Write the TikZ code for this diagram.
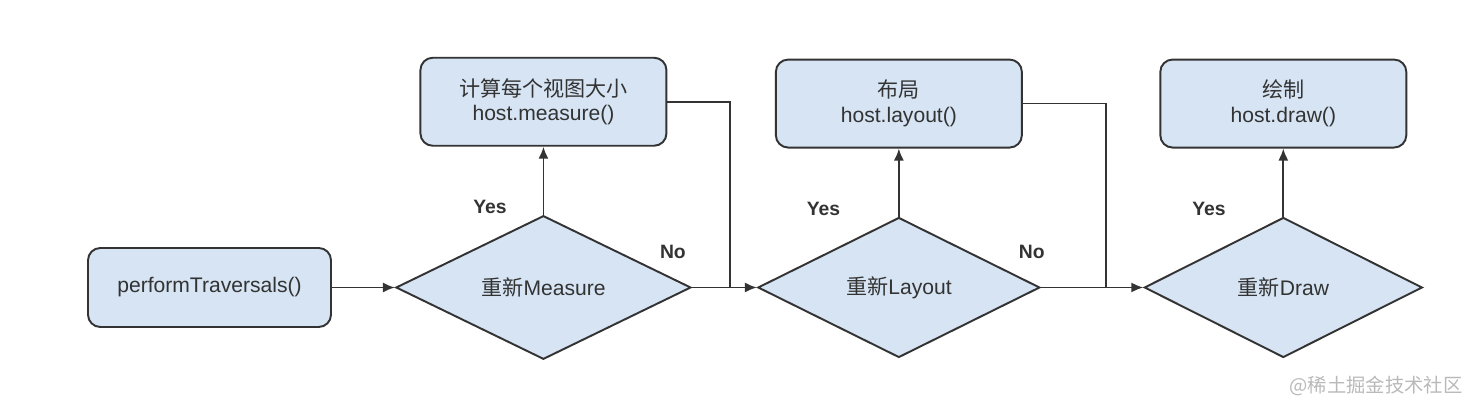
\documentclass[tikz,border=0pt]{standalone}
\usepackage{fontspec}
\setmainfont{Liberation Sans}
\newfontfamily\cjk{Noto Sans CJK SC}
\usepackage{tikz}
\usetikzlibrary{arrows.meta,positioning,shapes.geometric}
\definecolor{Box}{HTML}{D6E4F3}
\definecolor{Edge}{HTML}{333333}
\definecolor{Ink}{HTML}{333333}

\begin{document}
\begin{tikzpicture}[font=\fontsize{12}{14}\selectfont,>={Latex[length=2.4mm,width=2mm]},
  task/.style={draw=Edge,line width=1.1pt,rounded corners=7pt,fill=Box,text=Ink,align=center,minimum width=4.92cm,minimum height=1.76cm},
  decision/.style={diamond,draw=Edge,line width=1.1pt,fill=Box,text=Ink,inner sep=0pt,minimum height=2.8cm},
  flow/.style={draw=Edge,line width=1pt},
  answer/.style={font=\fontsize{11}{13}\selectfont\bfseries,text=Ink}]
  \useasboundingbox (-4.19,-2.49) rectangle (25.43,5.75);
  % main row
  \node[task,minimum width=4.86cm,minimum height=1.58cm] (start) at (0,0) {performTraversals()};
  \node[decision,minimum width=5.9cm,right=1.26cm of start] (measure) {{\cjk 重新}Measure};
  \node[decision,minimum width=5.64cm,right=1.3cm of measure] (layout) {{\cjk 重新}Layout};
  \node[decision,minimum width=5.56cm,right=2.05cm of layout] (redraw) {{\cjk 重新}Draw};
  % actions
  \node[task,above=1.36cm of measure] (measureDo) {{\cjk 计算每个视图大小}\\host.measure()};
  \node[task,above=1.36cm of layout] (layoutDo) {{\cjk 布局}\\host.layout()};
  \node[task,above=1.36cm of redraw] (redrawDo) {{\cjk 绘制}\\host.draw()};
  \coordinate[left=0.54cm of layout.west] (measureJoin);
  \coordinate[left=0.74cm of redraw.west] (layoutJoin);
  % connectors
  \draw[flow,->] (start) -- (measure);
  \draw[flow,->] (measure) -- node[answer,pos=0.11,left=0.6cm]{Yes} (measureDo);
  \draw[flow,->] (measure) -- node[answer,pos=0,xshift=-0.38cm,yshift=0.72cm]{No} (layout);
  \draw[flow] (measureDo.east) -| (measureJoin);
  \draw[flow,->] (layout) -- node[answer,pos=0.11,left=1.04cm]{Yes} (layoutDo);
  \draw[flow,->] (layout) -- node[answer,pos=0,xshift=-0.18cm,yshift=0.72cm]{No} (redraw);
  \draw[flow] (layoutDo.east) -| (layoutJoin);
  \draw[flow,->] (redraw) -- node[answer,pos=0.11,left=1.02cm]{Yes} (redrawDo);
  \node[text=gray!55,font=\cjk\fontsize{11}{13}\selectfont] (wm) at (23.33,-1.97) {@稀土掘金技术社区};
\end{tikzpicture}
\end{document}
